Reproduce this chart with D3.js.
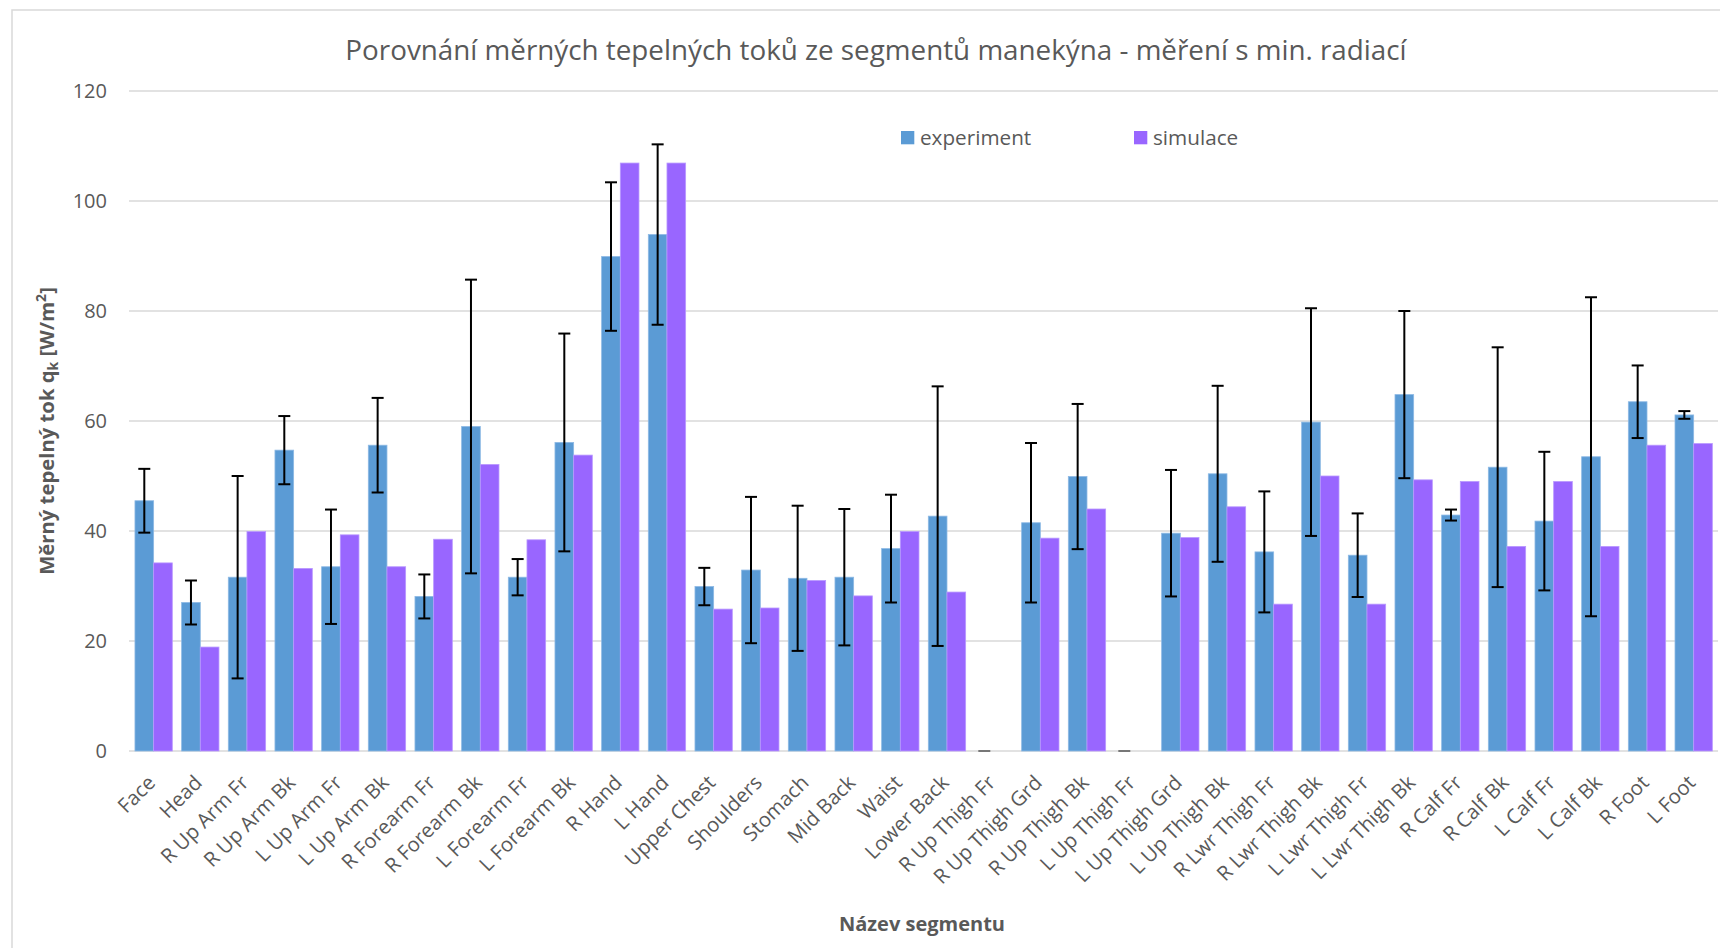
<!DOCTYPE html>
<html>
<head>
<meta charset="utf-8">
<script src="https://cdn.jsdelivr.net/npm/d3@7"></script>
<style>
  html, body { margin: 0; padding: 0; background: #fff; }
  svg { display: block; }
  text { font-family: "Open Sans", sans-serif; }
</style>
</head>
<body>
<svg id="chart" width="1720" height="948"></svg>
<script>
const categories = ["Face","Head","R Up Arm Fr","R Up Arm Bk","L Up Arm Fr","L Up Arm Bk","R Forearm Fr","R Forearm Bk","L Forearm Fr","L Forearm Bk","R Hand","L Hand","Upper Chest","Shoulders","Stomach","Mid Back","Waist","Lower Back","R Up Thigh Fr","R Up Thigh Grd","R Up Thigh Bk","L Up Thigh Fr","L Up Thigh Grd","L Up Thigh Bk","R Lwr Thigh Fr","R Lwr Thigh Bk","L Lwr Thigh Fr","L Lwr Thigh Bk","R Calf Fr","R Calf Bk","L Calf Fr","L Calf Bk","R Foot","L Foot"];
const experiment = [45.5,27.0,31.6,54.7,33.5,55.6,28.1,59.0,31.6,56.1,89.9,93.9,29.9,32.9,31.4,31.6,36.8,42.7,0,41.5,49.9,0,39.6,50.4,36.2,59.8,35.6,64.8,42.9,51.6,41.8,53.5,63.5,61.1];
const experimentError = [5.8,4.0,18.4,6.2,10.4,8.6,4.0,26.7,3.3,19.8,13.5,16.4,3.4,13.3,13.2,12.4,9.8,23.6,0,14.5,13.2,0,11.5,16.0,11.0,20.7,7.6,15.2,1.0,21.8,12.6,29.0,6.6,0.7];
const simulace = [34.2,18.9,39.9,33.2,39.3,33.5,38.5,52.1,38.4,53.8,106.9,106.9,25.8,26.0,31.0,28.2,39.9,28.9,0,38.7,44.0,0,38.8,44.4,26.7,50.0,26.7,49.3,49.0,37.2,49.0,37.2,55.6,55.9];
const yTicks = [0,20,40,60,80,100,120];
const seriesNames = ["experiment","simulace"];
const seriesColors = ["#5B9BD5","#9966FF"];
const seriesStroke = ["#8DB9E4","#B998FF"];
const titleText = "Porovnání měrných tepelných toků ze segmentů manekýna - měření s min. radiací";
const xTitle = "Název segmentu";

const svg = d3.select("#chart");
const plot = {left: 130.3, right: 1717, top: 91, bottom: 751};

// chart border
svg.append("rect").attr("x", 12).attr("y", 10).attr("width", 1760).attr("height", 1000)
  .attr("fill", "#fff").attr("stroke", "#D9D9D9").attr("stroke-width", 1.5);

const x = d3.scaleBand().domain(categories).range([plot.left, plot.right])
  .paddingInner(0.2).paddingOuter(0.1);
const xs = d3.scaleBand().domain(seriesNames).range([0, x.bandwidth()]);
const y = d3.scaleLinear().domain([0, 120]).range([plot.bottom, plot.top]);

// gridlines
svg.append("g").selectAll("line").data(yTicks).join("line")
  .attr("x1", 129).attr("x2", 1718)
  .attr("y1", d => y(d)).attr("y2", d => y(d))
  .attr("stroke", "#D9D9D9").attr("stroke-width", 1.5);

// y axis labels
const yAxis = d3.axisLeft(y).tickValues(yTicks).tickSize(0).tickPadding(0);
const gy = svg.append("g").attr("transform", "translate(107,0)").call(yAxis);
gy.select(".domain").remove();
gy.selectAll("text").attr("font-size", 20).attr("fill", "#595959")
  .attr("font-family", "Open Sans, sans-serif");

// bars
const data = categories.map((c, i) => ({c, vals: [experiment[i], simulace[i]], err: experimentError[i]}));
const groups = svg.append("g").selectAll("g").data(data).join("g")
  .attr("transform", d => `translate(${x(d.c)},0)`);
groups.selectAll("rect").data(d => d.vals.map((v, k) => ({v, k}))).join("rect")
  .attr("x", d => xs(seriesNames[d.k]))
  .attr("width", xs.bandwidth())
  .attr("y", d => y(d.v))
  .attr("height", d => y(0) - y(d.v))
  .attr("fill", d => seriesColors[d.k])
  .attr("stroke", d => d.v > 0 ? seriesStroke[d.k] : "none")
  .attr("stroke-width", 0.8);

// error bars on experiment
const eg = svg.append("g").attr("stroke", "#000").attr("stroke-width", 2);
data.forEach(d => {
  const cx = x(d.c) + xs("experiment") + xs.bandwidth() / 2;
  const hi = y(d.vals[0] + d.err), lo = y(Math.max(0, d.vals[0] - d.err));
  if (d.err > 0) eg.append("line").attr("x1", cx).attr("x2", cx).attr("y1", hi).attr("y2", lo);
  eg.append("line").attr("x1", cx - 6).attr("x2", cx + 6).attr("y1", hi).attr("y2", hi)
    .attr("stroke", d.vals[0] > 0 ? "#000" : "#777");
  if (d.err > 0) eg.append("line").attr("x1", cx - 6).attr("x2", cx + 6).attr("y1", lo).attr("y2", lo);
});

// x axis labels
const xAxis = d3.axisBottom(x).tickSize(0).tickPadding(0);
const gx = svg.append("g").attr("transform", `translate(0,${plot.bottom})`).call(xAxis);
gx.select(".domain").remove();
gx.selectAll("text")
  .attr("font-size", 20.3).attr("fill", "#595959").attr("font-family", "Open Sans, sans-serif")
  .attr("text-anchor", "end").attr("dy", null).attr("y", null)
  .attr("transform", "translate(3,33) rotate(-45)");

// title
svg.append("text").attr("x", 876).attr("y", 60).attr("text-anchor", "middle")
  .attr("font-size", 27.8).attr("fill", "#595959").text(titleText);

// axis titles
svg.append("text").attr("transform", "translate(54,431) rotate(-90)").attr("text-anchor", "middle")
  .attr("font-size", 20.3).attr("font-weight", "bold").attr("fill", "#595959")
  .call(t => {
    t.append("tspan").text("Měrný tepelný tok q");
    t.append("tspan").attr("font-size", 14).attr("dy", 4).text("k");
    t.append("tspan").attr("dy", -4).text(" [W/m");
    t.append("tspan").attr("font-size", 14).attr("dy", -8).text("2");
    t.append("tspan").attr("dy", 8).text("]");
  });
svg.append("text").attr("x", 922).attr("y", 930.7).attr("text-anchor", "middle")
  .attr("font-size", 20).attr("font-weight", "bold").attr("fill", "#595959").text(xTitle);

// legend
const legendX = [901, 1134];
const lg = svg.append("g").selectAll("g").data(seriesNames).join("g")
  .attr("transform", (d, i) => `translate(${legendX[i]},131)`);
lg.append("rect").attr("width", 13.3).attr("height", 13.3).attr("fill", (d, i) => seriesColors[i]);
lg.append("text").attr("x", 19).attr("y", 13.5).attr("font-size", 20.7).attr("fill", "#595959").text(d => d);
</script>
</body>
</html>
